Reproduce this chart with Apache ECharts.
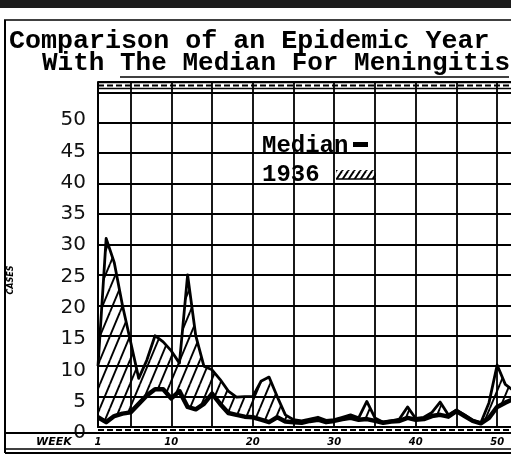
<!DOCTYPE html>
<html><head><meta charset="utf-8">
<script src="https://cdn.jsdelivr.net/npm/echarts@6/dist/echarts.min.js"></script>
<style>html,body{margin:0;padding:0;background:#fff}#c{width:511px;height:455px}</style>
</head><body><div id="c"></div>
<script>
// ---- data ----
const weeks = [1,2,3,4,5,6,7,8,9,10,11,12,13,14,15,16,17,18,19,20,21,22,23,24,25,26,27,28,29,30,31,32,33,34,35,36,37,38,39,40,41,42,43,44,45,46,47,48,49,50,51,52];
const cases1936 = [10,31,27,20,14,8,11,15,14,12.5,10.5,25,15,10,9.4,7.8,5.9,4.9,5,5,7.5,8.2,5,2,1.2,1.0,1.3,1.6,1.1,1.2,1.6,2.0,1.5,4.2,1.5,0.8,1.0,1.3,3.3,1.4,1.6,2.4,4.1,2.0,2.8,2.0,1.1,0.7,4,10.2,7,6];
const medianCases = [1.6,0.8,1.8,2.2,2.4,3.8,5.2,6.2,6.2,4.7,5.9,3.3,2.9,3.8,5.5,3.8,2.3,2.0,1.7,1.6,1.2,0.8,1.6,0.9,0.8,0.7,1.0,1.2,0.8,1.0,1.3,1.5,1.2,1.3,1.0,0.7,0.9,1.0,1.5,1.2,1.3,1.8,2.0,1.7,2.6,1.8,1.0,0.6,1.5,3.3,4,4.6];
const yTickLabels = [0,5,10,15,20,25,30,35,40,45,50];
const weekTickLabels = [1,10,20,30,40,50];
const weekGridLines = [5,10,15,20,25,30,35,40,45,50];
const titleLine1 = 'Comparison of an Epidemic Year';
const titleLine2a = 'With ';
const titleLine2b = 'The Median For Meningitis';
const legendMedian = 'Median';
const legendYear = '1936';
const yName = 'CASES';
const xName = 'WEEK';

// hatch patterns
function makeHatch(w, h, lw) {
  const c = document.createElement('canvas');
  c.width = w; c.height = h;
  const g = c.getContext('2d');
  g.strokeStyle = '#000'; g.lineWidth = lw;
  for (const dx of [-w, 0, w]) { g.beginPath(); g.moveTo(dx, h); g.lineTo(dx + w, 0); g.stroke(); }
  return { image: c, repeat: 'repeat' };
}
const hatch = makeHatch(10, 24, 1.9);
const hatchSwatch = makeHatch(6, 9, 2);

const chart = echarts.init(document.getElementById('c'), null, { renderer: 'canvas' });
const mono = '"Liberation Mono", "DejaVu Sans Mono", monospace';
const L = 98, R = 511;
function hline(y, w, dash, x1, x2) {
  return { type: 'line', silent: true, z: 50,
    shape: { x1: x1 == null ? L : x1, y1: y, x2: x2 == null ? R : x2, y2: y },
    style: { stroke: '#000', lineWidth: w, lineDash: dash || null } };
}
chart.setOption({
  animation: false,
  backgroundColor: '#fff',
  grid: [
    { left: L, right: 0, top: 82, bottom: 28, containLabel: false },
    // hand-lettered tick labels sit on a slightly different scale
    { left: L, right: 0, top: 120, bottom: 22, containLabel: false }
  ],
  xAxis: [{
    type: 'value', min: 1, max: 51.7, gridIndex: 0,
    axisLine: { show: true, lineStyle: { color: '#000', width: 2 } },
    axisTick: { show: false, customValues: weekGridLines },
    splitLine: { show: true, lineStyle: { color: '#000', width: 1.8 } },
    axisLabel: { customValues: weekTickLabels, margin: 10, color: '#000',
      fontFamily: '"DejaVu Sans"', fontWeight: 'bold', fontStyle: 'italic', fontSize: 10 }
  }, {
    type: 'value', min: 1, max: 51.7, gridIndex: 1, show: false
  }],
  yAxis: [{
    type: 'value', min: 0, max: 56.7, interval: 5, gridIndex: 0,
    axisLine: { show: true, lineStyle: { color: '#000', width: 2 } },
    axisTick: { show: false },
    axisLabel: { show: false },
    splitLine: { show: true, lineStyle: { color: '#000', width: 1.8 } }
  }, {
    type: 'value', min: 0, max: 50, interval: 5, gridIndex: 1, position: 'left',
    axisLine: { show: false }, axisTick: { show: false }, splitLine: { show: false },
    axisLabel: { customValues: yTickLabels, margin: 12, color: '#111',
      fontFamily: '"DejaVu Sans"', fontSize: 20 }
  }],
  series: [{
    name: 'band', type: 'custom', clip: true, z: 2,
    data: weeks.map((w, i) => [w, cases1936[i], medianCases[i]]),
    encode: { x: 0, y: [1, 2] },
    renderItem: function (params, api) {
      if (params.dataIndex !== 0) return null;
      const pts = [];
      for (let i = 0; i < weeks.length; i++) pts.push(api.coord([weeks[i], cases1936[i]]));
      for (let i = weeks.length - 1; i >= 0; i--) pts.push(api.coord([weeks[i], medianCases[i]]));
      return { type: 'polygon', shape: { points: pts }, style: { fill: hatch, stroke: null } };
    }
  }, {
    name: '1936', type: 'line', data: weeks.map((w, i) => [w, cases1936[i]]),
    symbol: 'none', z: 3,
    lineStyle: { color: '#000', width: 2.8, join: 'round' }
  }, {
    name: 'Median', type: 'line', data: weeks.map((w, i) => [w, medianCases[i]]),
    symbol: 'none', z: 4,
    lineStyle: { color: '#000', width: 4.5, join: 'round' }
  }],
  graphic: [
    { type: 'rect', silent: true, shape: { x: 0, y: 0, width: 511, height: 8 }, style: { fill: '#1c1c1c' } },
    hline(20, 1.5, null, 4, 511),
    { type: 'line', silent: true, shape: { x1: 5, y1: 20, x2: 5, y2: 453 }, style: { stroke: '#000', lineWidth: 2 } },
    { type: 'text', style: { text: titleLine1, x: 9, y: 41, fill: '#000', font: 'bold 26.7px ' + mono, verticalAlign: 'middle' } },
    { type: 'text', style: { text: titleLine2a + titleLine2b, x: 42, y: 63, fill: '#000', font: 'bold 26px ' + mono, verticalAlign: 'middle' } },
    hline(77, 1.5, null, 42 + 5 * 15.6, 509),
    // top band
    hline(82.5, 1.5),
    hline(85.5, 2, [6, 3]),
    hline(88.5, 1.5),
    // bottom band
    hline(430, 2, [6, 3]),
    hline(433, 2, null, 5, 511),
    hline(449, 1.5, null, 5, 511),
    hline(453, 2, null, 5, 511),
    { type: 'text', style: { text: xName, x: 36, y: 442, fill: '#000', font: 'italic bold 11px "DejaVu Sans"', verticalAlign: 'middle' } },
    { type: 'text', rotation: Math.PI / 2, x: 11, y: 280,
      style: { text: yName, x: 0, y: 0, fill: '#000', font: 'italic bold 8px "DejaVu Sans"', align: 'center', verticalAlign: 'middle' } },
    // legend
    { type: 'text', style: { text: legendMedian, x: 262, y: 146, fill: '#000', font: 'bold 24px ' + mono, verticalAlign: 'middle' } },
    { type: 'rect', shape: { x: 353, y: 142, width: 15, height: 5 }, style: { fill: '#000' } },
    { type: 'text', style: { text: legendYear, x: 262, y: 175, fill: '#000', font: 'bold 24px ' + mono, verticalAlign: 'middle' } },
    { type: 'rect', shape: { x: 336, y: 170, width: 40, height: 9 }, style: { fill: hatchSwatch, stroke: null } },
    hline(179, 1.5, null, 336, 376)
  ]
});
</script>
</body></html>
